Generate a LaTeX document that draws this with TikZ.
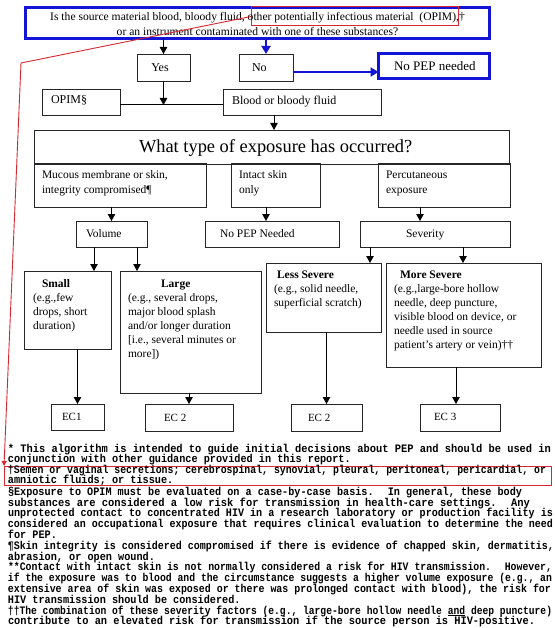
\documentclass[tikz,border=0pt]{standalone}
\usepackage{fontspec}
\usepackage{graphicx}
\setmainfont{Liberation Serif}
\newfontfamily\fnmono{Liberation Mono}
\usetikzlibrary{arrows.meta,calc}
\definecolor{qblue}{RGB}{20,20,215}
\definecolor{hlred}{RGB}{215,40,50}
\newcommand\tl[1]{\begin{tabular}[t]{@{}l@{}}#1\end{tabular}}
\newcommand\tc[1]{\begin{tabular}[t]{@{}c@{}}#1\end{tabular}}
\newcommand\fnw[2]{\resizebox{#1pt}{1.12\height}{#2}}
\newcommand\fns[1]{\scalebox{1}[1.12]{#1}}
\tikzset{
 box/.style={draw=black!85, line width=0.9pt, inner sep=0pt, outer sep=0pt, anchor=north west},
 bluebox/.style={box, draw=qblue, line width=2.6pt},
 hlbox/.style={draw=hlred, line width=1pt, inner sep=0pt, outer sep=0pt, anchor=north west},
 lbl/.style={inner sep=0pt, outer sep=0pt, anchor=base west, font=\fontsize{12}{14}\selectfont},
 sub/.style={lbl, font=\fontsize{11.5}{15}\selectfont},
 det/.style={lbl, font=\fontsize{11.5}{14}\selectfont},
 ec/.style={lbl, font=\fontsize{11}{13}\selectfont},
 arr/.style={draw=black, line width=1pt, -{Triangle[length=7pt,width=7.5pt]}},
 plain/.style={draw=black, line width=1pt},
 barr/.style={draw=qblue, line width=2.2pt, -{Triangle[length=8pt,width=9pt]}},
 redarr/.style={draw=hlred, line width=0.9pt, -{Triangle[length=5pt,width=5pt]}},
 fn/.style={inner sep=0pt, outer sep=0pt, anchor=base west, font=\fnmono\bfseries\fontsize{10.2}{11}\selectfont},
}
\begin{document}
\begin{tikzpicture}[x=1pt,y=-1pt]
\useasboundingbox (0,0) rectangle (554,628);
\fill[white] (0,0) rectangle (554,628);

% boxes
\node[bluebox, minimum width=464pt, minimum height=31pt] (q) at (25.5,7.5) {};
\node[hlbox, minimum width=207pt, minimum height=19pt] (hl1) at (251,7) {};
\node[box, minimum width=53pt, minimum height=27pt] (yes) at (137,54) {};
\node[box, minimum width=54pt, minimum height=27pt] (no) at (239,54) {};
\node[bluebox, minimum width=111pt, minimum height=25pt] (nopep1) at (378.5,53.5) {};
\node[box, minimum width=78pt, minimum height=26pt] (opim) at (42,89) {};
\node[box, minimum width=158pt, minimum height=26pt] (blood) at (223,89) {};
\node[box, minimum width=475pt, minimum height=34pt] (what) at (34,130) {};
\node[box, minimum width=172pt, minimum height=44pt] (mucous) at (34,163) {};
\node[box, minimum width=89pt, minimum height=44pt] (intact) at (231,163) {};
\node[box, minimum width=132pt, minimum height=44pt] (percut) at (378,163) {};
\node[box, minimum width=71pt, minimum height=26pt] (volume) at (76,221) {};
\node[box, minimum width=134pt, minimum height=26pt] (nopep2) at (205,221) {};
\node[box, minimum width=150pt, minimum height=26pt] (severity) at (360,221) {};
\node[box, minimum width=87pt, minimum height=78pt] (small) at (24,271) {};
\node[box, minimum width=141pt, minimum height=122pt] (large) at (120,271) {};
\node[box, minimum width=115pt, minimum height=69pt] (less) at (266,263) {};
\node[box, minimum width=155pt, minimum height=104pt] (more) at (386,263) {};
\node[box, minimum width=53pt, minimum height=26pt] (ec1) at (51,404) {};
\node[box, minimum width=88pt, minimum height=27pt] (ec2a) at (145,404) {};
\node[box, minimum width=71pt, minimum height=27pt] (ec2b) at (291,404) {};
\node[box, minimum width=80pt, minimum height=27pt] (ec3) at (420,404) {};
\node[hlbox, minimum width=547pt, minimum height=19pt] (hl2) at (4,466) {};

% texts
\node[lbl, anchor=base, font=\fontsize{11.6}{15}\selectfont] (qt) at (257.5,21)
  {\tc{Is the source material blood, bloody fluid, other potentially infectious material~ (OPIM),†\\or an instrument contaminated with one of these substances?}};
\node[lbl, anchor=base] (yest) at (160,72) {Yes};
\node[lbl] (not) at (252,72) {No};
\node[lbl, font=\fontsize{13}{15}\selectfont] (nopep1t) at (394,71) {No PEP needed};
\node[lbl] (opimt) at (51,104) {OPIM§};
\node[lbl] (bloodt) at (232,105) {Blood or bloody fluid};
\node[lbl, font=\fontsize{18.4}{22}\selectfont] (whatt) at (139,153) {What type of exposure has occurred?};
\node[sub] (mucoust) at (42,178.5) {\tl{Mucous membrane or skin,\\integrity compromised¶}};
\node[sub] (intactt) at (239,178.5) {\tl{Intact skin\\only}};
\node[sub] (percutt) at (386,178.5) {\tl{Percutaneous\\exposure}};
\node[sub] (volumet) at (86,237.5) {Volume};
\node[sub] (nopep2t) at (220,237.5) {No PEP Needed};
\node[sub] (severityt) at (406,237.5) {Severity};
\node[det] (smallt) at (33,287) {\tl{\hspace*{9pt}\textbf{Small}\\(e.g.,few\\drops, short\\duration)}};
\node[det] (larget) at (128,287) {\tl{\hspace*{33pt}\textbf{Large}\\(e.g., several drops,\\major blood splash\\and/or longer duration\\{[}i.e., several minutes or\\more{]})}};
\node[det, font=\fontsize{11.5}{14.3}\selectfont] (lesst) at (274,278) {\tl{\hspace*{3pt}\textbf{Less Severe}\\(e.g., solid needle,\\superficial scratch)}};
\node[det] (moret) at (394,278) {\tl{\hspace*{6pt}\textbf{More Severe}\\(e.g.,large-bore hollow\\needle, deep puncture,\\visible blood on device, or\\needle used in source\\patient’s artery or vein)††}};
\node[ec] (ec1t) at (62,420) {EC1};
\node[ec] (ec2at) at (164,421) {EC 2};
\node[ec] (ec2bt) at (308,421) {EC 2};
\node[ec] (ec3t) at (434,420) {EC 3};

% connectors
\draw[arr] (q.south -| yes.north) -- (yes.north);
\draw[barr] (q.south -| no.north) -- (no.north);
\draw[barr] ([yshift=-4.5pt]no.east) -- ([yshift=-4.5pt]no.east -| nopep1.west);
\coordinate (junc) at (163.5,105);
\draw[plain] (opim.east |- junc) -- (blood.west |- junc);
\draw[arr] (yes.south) -- (junc);
\draw[arr] ([xshift=-28pt]blood.south) -- ([xshift=-28pt]blood.south |- what.north);
\draw[arr] (mucous.south -| volume.north) -- (volume.north);
\draw[arr] ([xshift=-9.5pt]intact.south) -- ([xshift=-9.5pt]intact.south |- nopep2.north);
\draw[arr] ([xshift=-24pt]percut.south) -- ([xshift=-24pt]percut.south |- severity.north);
\draw[arr] ([xshift=-17.5pt]volume.south) -- ([xshift=-17.5pt]volume.south |- small.north);
\draw[arr] ([xshift=25.5pt]volume.south) -- ([xshift=25.5pt]volume.south |- large.north);
\draw[arr] ([xshift=-65pt]severity.south) -- ([xshift=-65pt]severity.south |- less.north);
\draw[arr] ([xshift=28pt]severity.south) -- ([xshift=28pt]severity.south |- more.north);
\draw[arr] (small.south -| ec1.north) -- (ec1.north);
\draw[arr] (large.south -| ec2a.north) -- (ec2a.north);
\draw[arr] (less.south -| ec2b.north) -- (ec2b.north);
\draw[arr] ([xshift=-4pt]ec3.north |- more.south) -- ([xshift=-4pt]ec3.north);
\coordinate (rbend) at (21,63);
\draw[redarr] (hl1.west) -- (rbend) -- (hl2.north west);

% footnotes
\node[fn] (fn1) at (8,452.0) {\fnw{543}{* This algorithm is intended to guide initial decisions about PEP and should be used in}};
\node[fn] (fn2) at (8,462.6) {\fns{conjunction with other guidance provided in this report.}};
\node[fn] (fn3) at (8,473.2) {\fnw{538}{†Semen or vaginal secretions; cerebrospinal, synovial, pleural, peritoneal, pericardial, or}};
\node[fn] (fn4) at (8,483.6) {\fns{amniotic fluids; or tissue.}};
\node[fn] (fn5) at (8,495.0) {\fnw{514}{§Exposure to OPIM must be evaluated on a case-by-case basis.~ In general, these body}};
\node[fn] (fn6) at (8,506.0) {\fnw{522}{substances are considered a low risk for transmission in health-care settings.~ Any}};
\node[fn] (fn7) at (8,516.8) {\fnw{545}{unprotected contact to concentrated HIV in a research laboratory or production facility is}};
\node[fn] (fn8) at (8,527.6) {\fnw{545}{considered an occupational exposure that requires clinical evaluation to determine the need}};
\node[fn] (fn9) at (8,538.4) {\fns{for PEP.}};
\node[fn] (fn10) at (8,549.2) {\fnw{546}{¶Skin integrity is considered compromised if there is evidence of chapped skin, dermatitis,}};
\node[fn] (fn11) at (8,560.0) {\fns{abrasion, or open wound.}};
\node[fn] (fn12) at (8,570.8) {\fnw{544}{**Contact with intact skin is not normally considered a risk for HIV transmission.~ However,}};
\node[fn] (fn13) at (8,581.6) {\fnw{544}{if the exposure was to blood and the circumstance suggests a higher volume exposure (e.g., an}};
\node[fn] (fn14) at (8,592.4) {\fnw{543}{extensive area of skin was exposed or there was prolonged contact with blood), the risk for}};
\node[fn] (fn15) at (8,603.2) {\fns{HIV transmission should be considered.}};
\node[fn] (fn16) at (8,614.0) {\fnw{544}{††The combination of these severity factors (e.g., large-bore hollow needle \underline{and} deep puncture)}};
\node[fn] (fn17) at (8,624.6) {\fnw{527}{contribute to an elevated risk for transmission if the source person is HIV-positive.}};
\end{tikzpicture}
\end{document}
